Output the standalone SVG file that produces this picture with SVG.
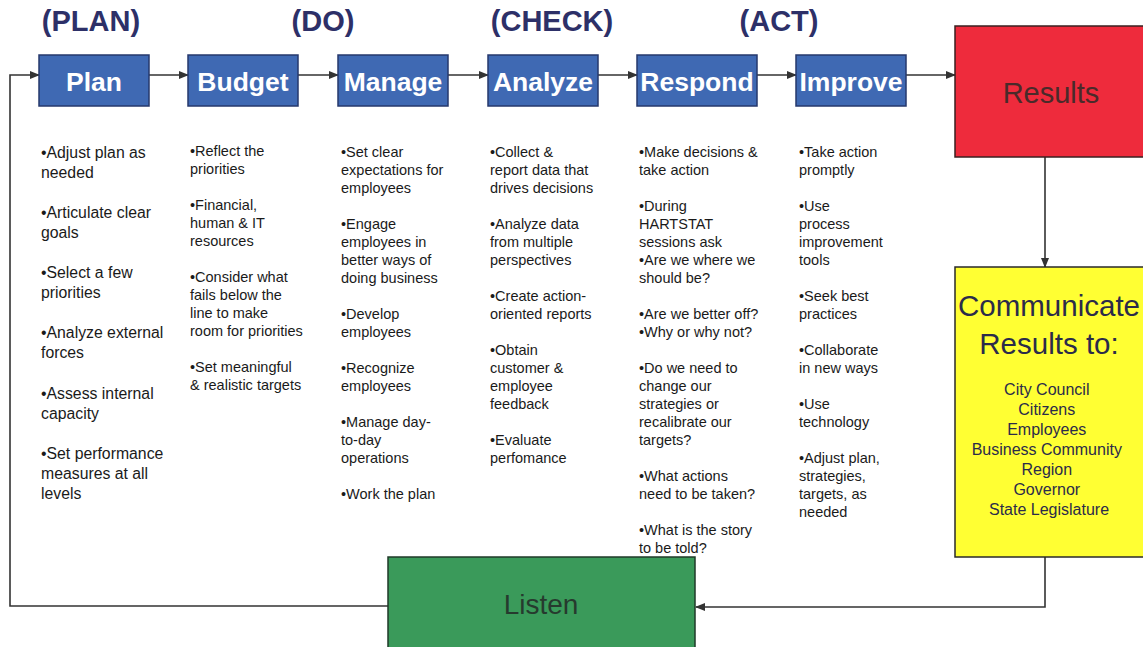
<svg xmlns="http://www.w3.org/2000/svg" width="1143" height="647" viewBox="0 0 1143 647">
<defs>
<marker id="ah" markerWidth="10" markerHeight="10" refX="9" refY="5" orient="auto" markerUnits="userSpaceOnUse">
<path d="M0,1 L10,5 L0,9 Z" fill="#333"/>
</marker>
<style>
.hdr{font-family:"Liberation Sans",Arial,sans-serif;font-weight:bold;font-size:29px;fill:#2d3068;text-anchor:middle}
.blue{fill:#3f69b3;stroke:#26386c;stroke-width:1.5}
.bl{font-family:"Liberation Sans",Arial,sans-serif;font-weight:bold;font-size:26.5px;fill:#ffffff;text-anchor:middle}
.body{font-family:"Liberation Sans",Arial,sans-serif;font-size:14.5px;fill:#1a1a1a}
.body1{font-family:"Liberation Sans",Arial,sans-serif;font-size:15.8px;fill:#1a1a1a}
.conn{fill:none;stroke:#333;stroke-width:1.6}
.big{font-family:"Liberation Sans",Arial,sans-serif;font-size:29px;text-anchor:middle}
</style>
</defs>

<g id="headers">
<text class="hdr" x="91" y="31">(PLAN)</text>
<text class="hdr" x="323" y="31">(DO)</text>
<text class="hdr" x="552" y="31">(CHECK)</text>
<text class="hdr" x="779" y="31">(ACT)</text>
</g>

<g id="connectors">
<line class="conn" x1="149" y1="75" x2="188" y2="75" marker-end="url(#ah)"/>
<line class="conn" x1="298" y1="75" x2="338" y2="75" marker-end="url(#ah)"/>
<line class="conn" x1="448" y1="75" x2="488" y2="75" marker-end="url(#ah)"/>
<line class="conn" x1="598" y1="75" x2="637" y2="75" marker-end="url(#ah)"/>
<line class="conn" x1="757" y1="75" x2="796" y2="75" marker-end="url(#ah)"/>
<line class="conn" x1="906" y1="75" x2="955" y2="75" marker-end="url(#ah)"/>
<line class="conn" x1="1045" y1="157" x2="1045" y2="267" marker-end="url(#ah)"/>
<path class="conn" d="M1045,557 V607 H696" marker-end="url(#ah)"/>
<path class="conn" d="M388,606 H10 V75 H39" marker-end="url(#ah)"/>
</g>

<g id="plan">
<rect class="blue" x="39" y="55" width="110" height="51"/>
<text class="bl" x="94" y="91">Plan</text>
<text class="body1" x="41">
<tspan x="41" y="158">•Adjust plan as</tspan>
<tspan x="41" y="178">needed</tspan>
<tspan x="41" y="218">•Articulate clear</tspan>
<tspan x="41" y="238">goals</tspan>
<tspan x="41" y="278">•Select a few</tspan>
<tspan x="41" y="298">priorities</tspan>
<tspan x="41" y="338">•Analyze external</tspan>
<tspan x="41" y="358">forces</tspan>
<tspan x="41" y="399">•Assess internal</tspan>
<tspan x="41" y="419">capacity</tspan>
<tspan x="41" y="459">•Set performance</tspan>
<tspan x="41" y="479">measures at all</tspan>
<tspan x="41" y="499">levels</tspan>
</text>
</g>

<g id="budget">
<rect class="blue" x="188" y="55" width="110" height="51"/>
<text class="bl" x="243" y="91">Budget</text>
<text class="body">
<tspan x="190" y="156">•Reflect the</tspan>
<tspan x="190" y="174">priorities</tspan>
<tspan x="190" y="210">•Financial,</tspan>
<tspan x="190" y="228">human &amp; IT</tspan>
<tspan x="190" y="246">resources</tspan>
<tspan x="190" y="282">•Consider what</tspan>
<tspan x="190" y="300">fails below the</tspan>
<tspan x="190" y="318">line to make</tspan>
<tspan x="190" y="336">room for priorities</tspan>
<tspan x="190" y="372">•Set meaningful</tspan>
<tspan x="190" y="390">&amp; realistic targets</tspan>
</text>
</g>

<g id="manage">
<rect class="blue" x="338" y="55" width="110" height="51"/>
<text class="bl" x="393" y="91">Manage</text>
<text class="body">
<tspan x="341" y="157">•Set clear</tspan>
<tspan x="341" y="175">expectations for</tspan>
<tspan x="341" y="193">employees</tspan>
<tspan x="341" y="229">•Engage</tspan>
<tspan x="341" y="247">employees in</tspan>
<tspan x="341" y="265">better ways of</tspan>
<tspan x="341" y="283">doing business</tspan>
<tspan x="341" y="319">•Develop</tspan>
<tspan x="341" y="337">employees</tspan>
<tspan x="341" y="373">•Recognize</tspan>
<tspan x="341" y="391">employees</tspan>
<tspan x="341" y="427">•Manage day-</tspan>
<tspan x="341" y="445">to-day</tspan>
<tspan x="341" y="463">operations</tspan>
<tspan x="341" y="499">•Work the plan</tspan>
</text>
</g>

<g id="analyze">
<rect class="blue" x="488" y="55" width="110" height="51"/>
<text class="bl" x="543" y="91">Analyze</text>
<text class="body">
<tspan x="490" y="157">•Collect &amp;</tspan>
<tspan x="490" y="175">report data that</tspan>
<tspan x="490" y="193">drives decisions</tspan>
<tspan x="490" y="229">•Analyze data</tspan>
<tspan x="490" y="247">from multiple</tspan>
<tspan x="490" y="265">perspectives</tspan>
<tspan x="490" y="301">•Create action-</tspan>
<tspan x="490" y="319">oriented reports</tspan>
<tspan x="490" y="355">•Obtain</tspan>
<tspan x="490" y="373">customer &amp;</tspan>
<tspan x="490" y="391">employee</tspan>
<tspan x="490" y="409">feedback</tspan>
<tspan x="490" y="445">•Evaluate</tspan>
<tspan x="490" y="463">perfomance</tspan>
</text>
</g>

<g id="respond">
<rect class="blue" x="637" y="55" width="120" height="51"/>
<text class="bl" x="697" y="91">Respond</text>
<text class="body">
<tspan x="639" y="157">•Make decisions &amp;</tspan>
<tspan x="639" y="175">take action</tspan>
<tspan x="639" y="211">•During</tspan>
<tspan x="639" y="229">HARTSTAT</tspan>
<tspan x="639" y="247">sessions ask</tspan>
<tspan x="639" y="265">•Are we where we</tspan>
<tspan x="639" y="283">should be?</tspan>
<tspan x="639" y="319">•Are we better off?</tspan>
<tspan x="639" y="337">•Why or why not?</tspan>
<tspan x="639" y="373">•Do we need to</tspan>
<tspan x="639" y="391">change our</tspan>
<tspan x="639" y="409">strategies or</tspan>
<tspan x="639" y="427">recalibrate our</tspan>
<tspan x="639" y="445">targets?</tspan>
<tspan x="639" y="481">•What actions</tspan>
<tspan x="639" y="499">need to be taken?</tspan>
<tspan x="639" y="535">•What is the story</tspan>
<tspan x="639" y="553">to be told?</tspan>
</text>
</g>

<g id="improve">
<rect class="blue" x="796" y="55" width="110" height="51"/>
<text class="bl" x="851" y="91">Improve</text>
<text class="body">
<tspan x="799" y="157">•Take action</tspan>
<tspan x="799" y="175">promptly</tspan>
<tspan x="799" y="211">•Use</tspan>
<tspan x="799" y="229">process</tspan>
<tspan x="799" y="247">improvement</tspan>
<tspan x="799" y="265">tools</tspan>
<tspan x="799" y="301">•Seek best</tspan>
<tspan x="799" y="319">practices</tspan>
<tspan x="799" y="355">•Collaborate</tspan>
<tspan x="799" y="373">in new ways</tspan>
<tspan x="799" y="409">•Use</tspan>
<tspan x="799" y="427">technology</tspan>
<tspan x="799" y="463">•Adjust plan,</tspan>
<tspan x="799" y="481">strategies,</tspan>
<tspan x="799" y="499">targets, as</tspan>
<tspan x="799" y="517">needed</tspan>
</text>
</g>

<g id="results">
<rect x="955" y="26" width="195" height="131" fill="#ee2b3c" stroke="#3a2020" stroke-width="1.5"/>
<text class="big" x="1051" y="103" fill="#4a2a2a">Results</text>
</g>

<g id="communicate">
<rect x="955" y="267" width="195" height="290" fill="#ffff33" stroke="#2a2a2a" stroke-width="1.5"/>
<text class="big" x="1049" y="316" fill="#2b2b4a" style="font-size:29.5px">Communicate</text>
<text class="big" x="1049" y="354" fill="#2b2b4a" style="font-size:29.5px">Results to:</text>
<text x="1049" style="font-family:'Liberation Sans',Arial,sans-serif;font-size:16px;fill:#2b2b4a;text-anchor:middle">
<tspan x="1049" y="395">City Council</tspan>
<tspan x="1049" y="415">Citizens</tspan>
<tspan x="1049" y="435">Employees</tspan>
<tspan x="1049" y="455">Business Community</tspan>
<tspan x="1049" y="475">Region</tspan>
<tspan x="1049" y="495">Governor</tspan>
<tspan x="1049" y="515">State Legislature</tspan>
</text>
</g>

<g id="listen">
<rect x="388" y="557" width="307" height="100" fill="#3a9a5a" stroke="#1f3a28" stroke-width="1.5"/>
<text class="big" x="541" y="614" fill="#263a2e" style="font-size:28px">Listen</text>
</g>
</svg>
